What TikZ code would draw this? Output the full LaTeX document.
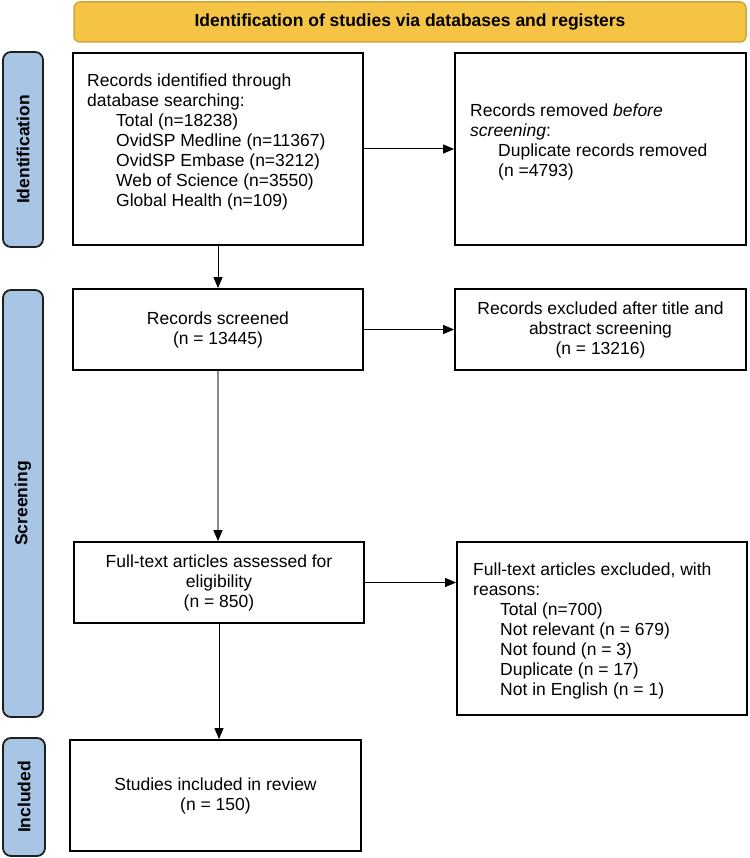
\documentclass[tikz,border=0pt]{standalone}
\usepackage{fontspec}
\setmainfont{Liberation Sans}
\usetikzlibrary{arrows.meta}
\definecolor{hdrfill}{HTML}{F6C445}
\definecolor{hdrdraw}{HTML}{D4A43A}
\definecolor{lblfill}{HTML}{A8C5E6}
\definecolor{lbldraw}{HTML}{1E1E1E}
\definecolor{greyarrow}{HTML}{8A8A8A}
\begin{document}
\begin{tikzpicture}[x=1pt,y=-1pt,
  box/.style={draw=black, line width=1.8pt, fill=white, inner sep=0pt, align=center,
    font=\fontsize{17.5}{20}\selectfont},
  txt/.style={font=\fontsize{17.5}{20}\selectfont, inner sep=0pt, align=left},
  lbl/.style={draw=lbldraw, fill=lblfill, line width=1.8pt, rounded corners=8pt, inner sep=0pt},
  lbltxt/.style={font=\fontsize{17.5}{20}\selectfont\bfseries, rotate=90, inner sep=0pt},
  hdr/.style={draw=hdrdraw, fill=hdrfill, line width=1.5pt, rounded corners=6pt, inner sep=0pt,
    font=\fontsize{17.5}{20}\selectfont\bfseries},
  arr/.style={-{Triangle[length=11pt,width=9pt]}, line width=1pt, draw=black},
  garr/.style={-{Triangle[length=11pt,width=9pt,color=black]}, line width=1.4pt, draw=greyarrow},
]
\useasboundingbox (0,0) rectangle (749,858);

% header
\node[hdr, minimum width=672pt, minimum height=40pt] (hdr) at (410,22)
  {Identification of studies via databases and registers};

% phase labels
\node[lbl, minimum width=40pt, minimum height=195pt] (L1) at (23,149.5) {};
\node[lbltxt] (L1t) at (L1.center) {Identification};
\node[lbl, minimum width=40pt, minimum height=427pt] (L2) at (23,503.5) {};
\node[lbltxt] (L2t) at (L2.center) {Screening};
\node[lbl, minimum width=42pt, minimum height=118pt] (L3) at (24,797) {};
\node[lbltxt] (L3t) at (L3.center) {Included};

% boxes
\node[box, minimum width=290pt, minimum height=192pt] (b1) at (218,149) {};
\node[txt, anchor=west] (t1) at (87,141.5) {Records identified through\\
database searching:\\
\hspace*{29pt}Total (n=18238)\\
\hspace*{29pt}OvidSP Medline (n=11367)\\
\hspace*{29pt}OvidSP Embase (n=3212)\\
\hspace*{29pt}Web of Science (n=3550)\\
\hspace*{29pt}Global Health (n=109)};

\node[box, minimum width=291pt, minimum height=192pt] (b2) at (600.5,149) {};
\node[txt, anchor=west] (t2) at (470,141.5) {Records removed \textit{before}\\
\textit{screening}:\\
\hspace*{28pt}Duplicate records removed\\
\hspace*{28pt}(n =4793)};

\node[box, minimum width=290pt, minimum height=81pt] (b3) at (218,329.5)
  {Records screened\\(n = 13445)};
\node[box, minimum width=291pt, minimum height=81pt] (b4) at (600.5,329.5)
  {Records excluded after title and\\abstract screening\\(n = 13216)};

\node[box, minimum width=290pt, minimum height=81pt] (b5) at (219,582.5)
  {Full-text articles assessed for\\eligibility\\(n = 850)};
\node[box, minimum width=290pt, minimum height=173pt] (b6) at (602,628.5) {};
\node[txt, anchor=west] (t6) at (473,630.5) {Full-text articles excluded, with\\
reasons:\\
\hspace*{27pt}Total (n=700)\\
\hspace*{27pt}Not relevant (n = 679)\\
\hspace*{27pt}Not found (n = 3)\\
\hspace*{27pt}Duplicate (n = 17)\\
\hspace*{27pt}Not in English (n = 1)};

\node[box, minimum width=291pt, minimum height=111pt] (b7) at (215.5,795.5)
  {Studies included in review\\(n = 150)};

% connectors
\draw[arr] (b1) -- (b2);
\draw[arr] (b1.south) -- (b3.north);
\draw[arr] (b3) -- (b4);
\draw[garr] (b3.south) -- (b3.south |- b5.north);
\draw[arr] (b5.east) -- (b5.east -| b6.west);
\draw[arr] (b5.south) -- (b5.south |- b7.north);
\end{tikzpicture}
\end{document}
